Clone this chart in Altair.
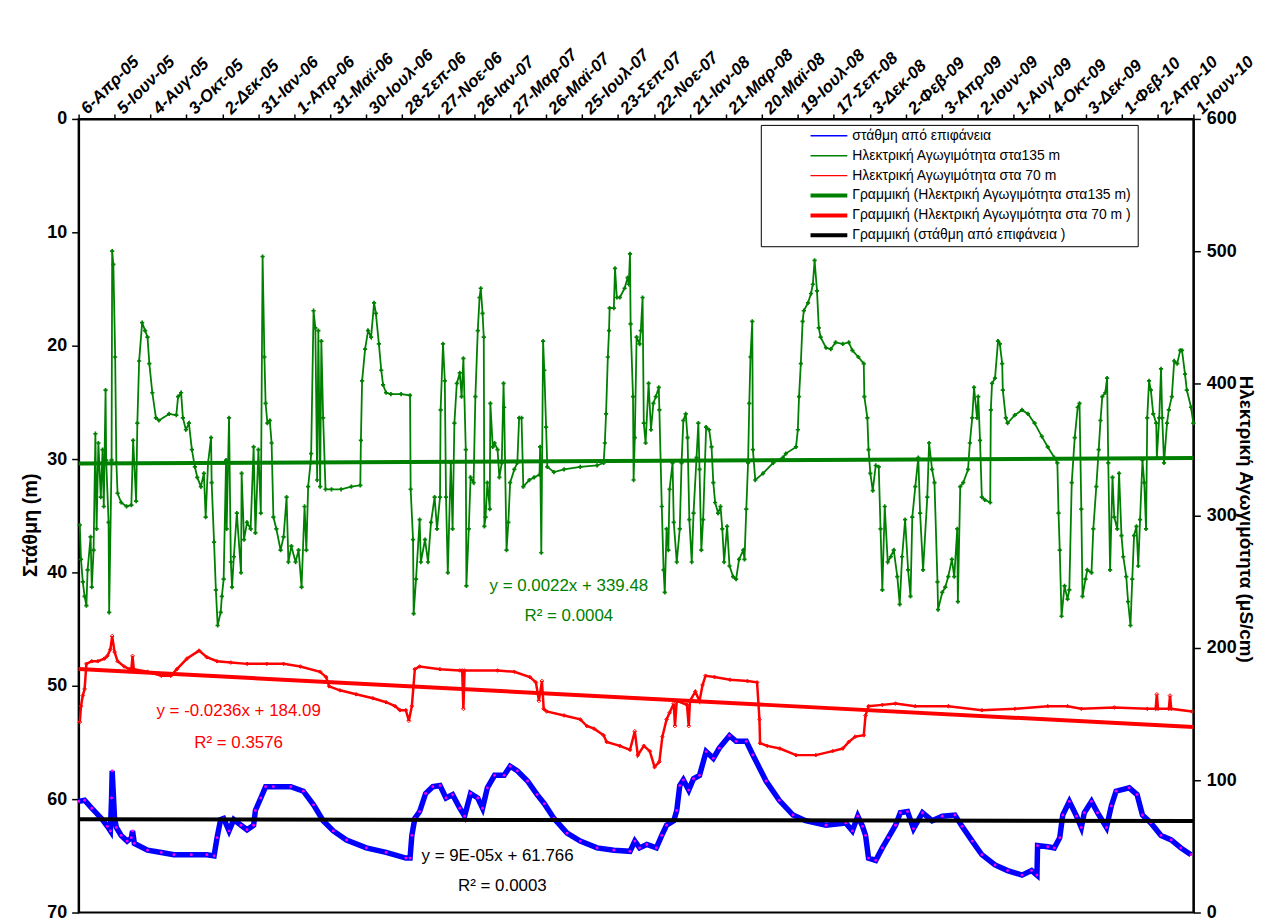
import json
import altair as alt
import pandas as pd

# ---------------- data ----------------
X_LABELS = ["6-Απρ-05", "5-Ιουν-05", "4-Αυγ-05", "3-Οκτ-05", "2-Δεκ-05", "31-Ιαν-06",
            "1-Απρ-06", "31-Μαϊ-06", "30-Ιουλ-06", "28-Σεπ-06", "27-Νοε-06", "26-Ιαν-07",
            "27-Μαρ-07", "26-Μαϊ-07", "25-Ιουλ-07", "23-Σεπ-07", "22-Νοε-07", "21-Ιαν-08",
            "21-Μαρ-08", "20-Μαϊ-08", "19-Ιουλ-08", "17-Σεπ-08", "3-Δεκ-08", "2-Φεβ-09",
            "3-Απρ-09", "2-Ιουν-09", "1-Αυγ-09", "4-Οκτ-09", "3-Δεκ-09", "1-Φεβ-10",
            "2-Απρ-10", "1-Ιουν-10"]
TICK_STEP = 60
X_MAX = TICK_STEP * (len(X_LABELS) - 1)

BLUE_IDX = [0, 10, 22, 38, 48, 53, 55, 56, 60, 63, 71, 81, 88, 90, 93, 115, 138, 159, 188, 214,
            226, 231, 237, 242, 251, 259, 271, 281, 292, 295, 304, 312, 325, 354, 375, 392, 408,
            425, 447, 480, 513, 546, 553, 556, 561, 569, 579, 591, 603, 613, 624, 636, 644, 654,
            666, 674, 682, 694, 710, 720, 732, 749, 765, 777, 793, 815, 837, 865, 893, 920, 928,
            936, 948, 964, 973, 981, 993, 998, 1003, 1009, 1018, 1026, 1036, 1047, 1059, 1069,
            1086, 1097, 1114, 1125, 1147, 1169, 1192, 1213, 1247, 1280, 1291, 1300, 1308, 1313,
            1318, 1330, 1341, 1351, 1363, 1371, 1383, 1393, 1408, 1424, 1441, 1462, 1474, 1491,
            1507, 1529, 1550, 1574, 1590, 1599, 1600, 1617, 1628, 1637, 1642, 1653, 1665, 1673,
            1678, 1690, 1700, 1715, 1723, 1731, 1753, 1766, 1775, 1789, 1806, 1823, 1839, 1856]
BLUE_M = [60.2, 60.1, 60.8, 61.7, 62.4, 62.8, 59.9, 57.5, 61.7, 62.5, 63.2, 63.7, 63.4, 62.8, 63.9,
          64.5, 64.7, 64.9, 64.9, 64.9, 65.0, 63.4, 61.8, 61.7, 62.8, 61.8, 62.3, 62.7, 62.3, 61.0,
          59.9, 58.9, 58.9, 58.9, 59.3, 60.5, 61.9, 62.8, 63.6, 64.3, 64.7, 65.2, 65.2, 63.2, 61.7,
          61.1, 59.5, 58.9, 58.8, 59.9, 59.6, 60.8, 61.5, 59.5, 59.9, 60.8, 59.0, 57.9, 57.9, 57.1,
          57.5, 58.4, 59.6, 60.4, 61.7, 63.0, 63.7, 64.3, 64.5, 64.6, 63.7, 64.3, 64.0, 64.3, 63.2,
          62.3, 61.9, 61.0, 58.8, 58.3, 59.2, 58.2, 57.9, 55.8, 56.4, 55.5, 54.4, 54.9, 54.9, 56.1,
          58.4, 60.1, 61.4, 61.9, 62.3, 62.1, 62.8, 61.5, 62.4, 63.2, 65.2, 65.4, 64.3, 63.4, 62.3,
          61.2, 61.1, 62.6, 61.2, 61.9, 61.5, 61.4, 62.4, 63.7, 64.9, 65.8, 66.3, 66.7, 66.3, 66.7,
          64.1, 64.2, 64.3, 63.4, 61.4, 60.2, 61.5, 62.5, 61.2, 60.2, 61.2, 62.5, 60.6, 59.3, 59.0,
          59.6, 61.4, 62.1, 63.2, 63.6, 64.3, 64.9]

GREEN_IDX = [2, 4, 7, 10, 13, 15, 20, 22, 25, 28, 30, 33, 37, 40, 42, 45, 46, 50, 51, 55, 56, 58,
             61, 63, 65, 71, 80, 88, 91, 96, 98, 101, 106, 111, 115, 118, 123, 129, 134, 151, 163,
             166, 171, 174, 179, 184, 189, 194, 198, 204, 209, 212, 216, 221, 222, 226, 229, 232,
             237, 239, 242, 246, 247, 251, 254, 256, 259, 264, 271, 272, 276, 281, 287, 292, 295,
             300, 304, 307, 310, 312, 315, 319, 322, 325, 330, 337, 342, 347, 350, 355, 362, 367,
             372, 377, 380, 383, 387, 388, 392, 395, 398, 400, 403, 405, 408, 412, 422, 438, 455,
             470, 471, 473, 478, 483, 488, 493, 496, 501, 505, 508, 513, 521, 538, 553,
             554, 558, 559, 563, 569, 571, 578, 583, 588, 594, 598, 603, 604, 608, 611, 613, 616,
             621, 624, 627, 631, 636, 639, 642, 646, 647, 651, 654, 659, 662, 666, 669, 671, 674,
             676, 677, 679, 682, 686, 687, 691, 694, 699, 702, 706, 709, 710, 714, 717, 720, 727,
             732, 735, 739, 742, 752, 760, 769, 770, 772, 775, 777, 780, 782, 793, 810, 837, 865,
             876, 878, 880, 883, 885, 886, 893, 895, 898, 903, 911, 916, 918, 920, 921, 925, 926,
             928, 931, 936, 938, 941, 943, 946, 951, 955, 959, 963, 968, 969, 973, 976, 978, 981,
             984, 986, 991, 993, 998, 1003, 1006, 1009, 1013, 1016, 1019, 1023, 1026, 1031, 1034,
             1036, 1039, 1042, 1047, 1052, 1056, 1059, 1062, 1067, 1071, 1074, 1077, 1082, 1086,
             1092, 1097, 1102, 1109, 1111, 1114, 1117, 1119, 1121, 1124, 1125, 1129, 1142, 1159,
             1175, 1180, 1197, 1200, 1202, 1205, 1208, 1210, 1217, 1222, 1225, 1228, 1232, 1235,
             1238, 1247, 1255, 1263, 1275, 1285, 1291, 1301, 1310, 1311, 1316, 1318, 1321, 1325,
             1330, 1335, 1338, 1341, 1345, 1350, 1355, 1360, 1366, 1370, 1374, 1379, 1384, 1388,
             1391, 1396, 1401, 1404, 1409, 1416, 1419, 1424, 1428, 1433, 1434, 1441, 1446, 1451,
             1457, 1461, 1466, 1467, 1471, 1476, 1484, 1487, 1491, 1494, 1499, 1501, 1504, 1507,
             1512, 1521, 1522, 1524, 1529, 1534, 1537, 1541, 1542, 1547, 1550, 1562, 1574, 1584,
             1595, 1607, 1617, 1628, 1633, 1635, 1637, 1640, 1645, 1650, 1653, 1657, 1662, 1667,
             1670, 1673, 1675, 1680, 1683, 1690, 1693, 1698, 1702, 1705, 1708, 1713, 1716, 1718,
             1721, 1725, 1728, 1733, 1736, 1740, 1743, 1748, 1751, 1755, 1758, 1761, 1765, 1768,
             1771, 1775, 1778, 1781, 1783, 1786, 1789, 1793, 1798, 1799, 1803, 1806, 1808, 1811,
             1816, 1819, 1824, 1828, 1833, 1838, 1841, 1846, 1849, 1856, 1860]
GREEN_VAL = [293, 267, 250, 239, 232, 259, 284, 246, 274, 362, 290, 355, 314, 350, 307, 395, 342,
             295, 227, 342, 500, 490, 420, 340, 317, 310, 307, 308, 357, 311, 370, 417, 446, 440,
             435, 415, 393, 374, 372, 377, 376, 390, 393, 374, 365, 370, 350, 337, 329, 322, 332,
             299, 340, 359, 325, 280, 244, 217, 227, 239, 252, 342, 290, 374, 265, 246, 269, 302,
             257, 332, 282, 295, 290, 352, 287, 350, 302, 496, 420, 385, 370, 372, 355, 299, 290,
             274, 284, 314, 265, 277, 265, 274, 246, 307, 274, 322, 340, 347, 455, 442, 327, 440,
             322, 432, 374, 320, 320, 320, 322, 323, 357, 402, 426, 440, 435, 461, 453, 430, 410,
             399, 393, 392, 392, 391,
             320, 282, 226, 252, 297, 265, 282, 265, 295, 314, 290, 314, 380, 430, 402, 314, 257,
             340, 290, 370, 400, 408, 390, 419, 350, 247, 290, 329, 325, 390, 440, 465, 472, 453,
             435, 292, 299, 325, 305, 385, 352, 355, 350, 329, 340, 400, 382, 274, 295, 325, 335,
             340, 374, 374, 322, 327, 329, 331, 352, 272, 432, 410, 367, 337, 333, 335, 337, 338,
             340, 355, 377, 420, 440, 457, 457, 487, 465, 465, 472, 480, 475, 498, 445, 390, 327,
             359, 435, 430, 440, 465, 370, 355, 400, 365, 385, 390, 397, 380, 307, 259, 242, 290,
             274, 320, 340, 295, 265, 290, 340, 372, 377, 359, 297, 265, 302, 344, 370,
             335, 274, 297, 367, 365, 352, 325, 310, 302, 307, 290, 265, 292, 262,
             254, 252, 267, 274, 267, 305, 340, 385, 420, 447, 350, 327, 332, 340,
             344, 347, 352, 365, 390, 415, 447, 455, 461, 468, 475, 493, 470, 442,
             435, 427, 426, 431, 430, 431, 425, 420, 415, 390, 374, 350, 332, 319,
             338, 337, 290, 244, 307, 265, 269, 274, 254, 233, 269, 297, 259, 239,
             299, 322, 344, 302, 259, 314, 355, 335, 325, 250, 229, 242, 246, 254,
             267, 254, 290, 235, 322, 325, 335, 355, 374, 397, 374, 390, 357, 314,
             312, 310, 380, 400, 404, 432, 430, 415, 395, 374, 370, 376, 380, 377,
             370, 360, 352, 344, 340, 302, 274, 224, 247, 237, 244, 325, 359, 382,
             385, 305, 239, 252, 259, 257, 290, 322, 350, 372, 390, 393, 404, 340,
             259, 329, 299, 290, 332, 285, 269, 254, 235, 217, 252, 285, 292, 262,
             297, 342, 325, 290, 374, 402, 395, 377, 370, 344, 374, 411, 374, 340,
             370, 380, 390, 417, 415, 425, 425, 407, 395, 382, 370]

RED_IDX = [2, 4, 7, 10, 13, 22, 32, 43, 48, 53, 56, 60, 65, 76, 85, 88, 90, 92, 115, 138, 154, 164,
           181, 201, 214, 231, 254, 281, 314, 342, 370, 403, 413, 418, 436, 463, 491, 513, 528, 536,
           546, 551, 556, 561, 569, 603, 636, 640, 642, 644, 699, 727, 753, 763, 768, 773, 776, 781,
           810, 837, 848, 860, 876, 881, 903, 920, 928, 933, 943, 953, 961, 969, 974, 981, 986, 993,
           995, 998, 1015, 1018, 1020, 1029, 1036, 1041, 1046, 1061, 1087, 1116, 1132, 1136, 1137,
           1149, 1170, 1197, 1230, 1258, 1275, 1285, 1296, 1310, 1313, 1318, 1341, 1363, 1396,
           1451, 1507, 1562, 1617, 1650, 1673, 1728, 1783, 1797, 1799, 1801, 1819, 1821, 1823, 1858]
RED_VAL = [144, 156, 164, 169, 188, 190, 190, 192, 194, 199, 209, 197, 190, 186, 184, 184, 194, 184,
           182, 179, 179, 184, 192, 198, 193, 190, 189, 188, 188, 188, 186, 182, 178, 171, 168, 165,
           162, 159, 156, 153, 153, 145, 156, 184, 186, 184, 183, 183, 154, 183, 183, 182, 178, 174,
           160, 175, 154, 152, 149, 146, 141, 139, 134, 129, 126, 123, 137, 119, 126, 122, 110, 114,
           133, 146, 151, 158, 141, 160, 157, 141, 160, 167, 160, 172, 179, 178, 176, 175, 174, 146,
           128, 126, 124, 119, 119, 122, 124, 129, 133, 134, 149, 156, 157, 158, 156, 156, 153, 154,
           156, 156, 154, 155, 154, 154, 165, 154, 154, 164, 154, 152]

S_BLUE = "στάθμη από επιφάνεια"
S_GREEN = "Ηλεκτρική Αγωγιμότητα στα135 m"
S_RED = "Ηλεκτρική Αγωγιμότητα στα 70 m"
T_GREEN = "Γραμμική (Ηλεκτρική Αγωγιμότητα στα135 m)"
T_RED = "Γραμμική (Ηλεκτρική Αγωγιμότητα στα 70 m )"
T_BLACK = "Γραμμική (στάθμη από επιφάνεια )"
SERIES = [S_BLUE, S_GREEN, S_RED, T_GREEN, T_RED, T_BLACK]
SERIES_COLORS = ["#0000FF", "#008000", "#FF0000", "#008000", "#FF0000", "#000000"]
LEGEND_WIDTHS = [1.5, 1.5, 1.5, 4, 4, 4]

# trend lines (Excel linear fits, as printed on the chart)
TREND_NAMES = [T_GREEN, T_RED, T_BLACK]
TREND_SLOPE = [0.0022, -0.0236, 0.00009]
TREND_INTERCEPT = [339.48, 184.09, 61.766]

EQ_TEXT = ["y = 0.0022x + 339.48", "R² = 0.0004",
           "y = -0.0236x + 184.09", "R² = 0.3576"]
EQ_IDX = [818, 818, 267, 267]
EQ_VAL = [247, 224, 152, 128]
EQ_COLOR = ["#008000", "#008000", "#FF0000", "#FF0000"]
EQB_TEXT = ["y = 9E-05x + 61.766", "R² = 0.0003"]
EQB_IDX = [699, 707]
EQB_M = [65.0, 67.7]

# ---------------- frames ----------------
blue_df = pd.DataFrame({"idx": BLUE_IDX, "m": BLUE_M, "series": S_BLUE})
green_df = pd.DataFrame({"idx": GREEN_IDX, "v": GREEN_VAL, "series": S_GREEN})
red_df = pd.DataFrame({"idx": RED_IDX, "v": RED_VAL, "series": S_RED})

trend_rows = []
for name, a, b in zip(TREND_NAMES, TREND_SLOPE, TREND_INTERCEPT):
    for xi in (0, X_MAX):
        trend_rows.append({"idx": xi, "val": a * xi + b, "series": name})
trend_df = pd.DataFrame(trend_rows)
trend_right = trend_df[trend_df.series != T_BLACK].rename(columns={"val": "v"})
trend_left = trend_df[trend_df.series == T_BLACK].rename(columns={"val": "m"})

eq_df = pd.DataFrame({"idx": EQ_IDX, "v": EQ_VAL, "txt": EQ_TEXT, "col": EQ_COLOR})
eqb_df = pd.DataFrame({"idx": EQB_IDX, "m": EQB_M, "txt": EQB_TEXT})

# ---------------- encodings ----------------
FONT = "Liberation Sans, Arial, sans-serif"

label_arr = json.dumps(X_LABELS, ensure_ascii=False)
x_axis = alt.Axis(orient="top", values=list(range(0, X_MAX + 1, TICK_STEP)),
                  labelExpr=f"{label_arr}[round(datum.value / {TICK_STEP})]",
                  labelAngle=-45, labelAlign="left", labelBaseline="middle",
                  labelOverlap=False, labelFlush=False, labelBound=False,
                  labelFont=FONT, labelFontSize=17, labelFontWeight="bold",
                  labelFontStyle="italic", labelPadding=3, labelOffset=5,
                  tickSize=5, title=None, grid=False)
X = alt.X("idx:Q", scale=alt.Scale(domain=[0, X_MAX], nice=False, zero=False), axis=x_axis)

left_axis = alt.Axis(orient="left", values=list(range(0, 71, 10)), title="Στάθμη (m)",
                     titleFont=FONT, titleFontSize=20, titleFontWeight="bold",
                     titleAngle=-90, titleX=-38, titleY=408, titleAlign="center",
                     titleBaseline="bottom",
                     labelFont=FONT, labelFontSize=18, labelFontWeight="bold",
                     labelPadding=5, labelFlush=False, labelOverlap=False,
                     tickSize=7, grid=False)
YL = alt.Y("m:Q", scale=alt.Scale(domain=[0, 70], reverse=True, nice=False, zero=False),
           axis=left_axis)

right_axis = alt.Axis(orient="right", values=list(range(0, 601, 100)),
                      title="Ηλεκτρική Αγωγιμότητα (μS/cm)",
                      titleFont=FONT, titleFontSize=19, titleFontWeight="bold",
                      titleAngle=90, titleX=42, titleY=402, titleAlign="center",
                      titleBaseline="bottom",
                      labelFont=FONT, labelFontSize=18, labelFontWeight="bold",
                      labelPadding=6, labelFlush=False, labelOverlap=False,
                      tickSize=7, grid=False)
YR = alt.Y("v:Q", scale=alt.Scale(domain=[0, 600], nice=False, zero=False), axis=right_axis)

# legend: an invisible (blank) title on the right only widens the frame like the original box
LEG = alt.Legend(title="\u2003" * 8, titleOrient="right", titleFontSize=14,
                 titlePadding=2, titleLimit=400,
                 orient="none", legendX=686, legendY=6, direction="vertical",
                 symbolType="stroke", symbolSize=1369, symbolOffset=44, clipHeight=14,
                 rowPadding=6, padding=4, labelFont=FONT, labelFontSize=14,
                 labelColor="black", labelOffset=3, labelLimit=500,
                 strokeColor="black", fillColor="white", cornerRadius=0)
COLOR = alt.Color("series:N", scale=alt.Scale(domain=SERIES, range=SERIES_COLORS), legend=LEG)
SW = alt.StrokeWidth("series:N", scale=alt.Scale(type="ordinal", domain=SERIES, range=LEGEND_WIDTHS),
                     legend=LEG)

# ---------------- left-axis group ----------------
blue_line = alt.Chart(blue_df).mark_line(strokeWidth=5.5).encode(x=X, y=YL, color=COLOR)
blue_pts = alt.Chart(blue_df).mark_point(shape="circle", filled=True, size=8, color="#FF00FF",
                                         opacity=1).encode(x=X, y=YL)
black_trend = alt.Chart(trend_left).mark_line().encode(x=X, y=YL, color=COLOR, strokeWidth=SW)
black_text = alt.Chart(eqb_df).mark_text(font=FONT, fontSize=17, color="black",
                                         baseline="middle", align="center").encode(
    x=X, y=YL, text="txt:N")
left = alt.layer(blue_line, blue_pts, black_trend, black_text)

# ---------------- right-axis group ----------------
green_line = alt.Chart(green_df).mark_line(strokeWidth=1.8).encode(x=X, y=YR, color=COLOR)
green_pts = alt.Chart(green_df).mark_point(shape="cross", filled=True, size=18, color="#008000",
                                           opacity=1).encode(x=X, y=YR)
red_line = alt.Chart(red_df).mark_line(strokeWidth=2.5).encode(x=X, y=YR, color=COLOR)
red_pts = alt.Chart(red_df).mark_point(shape="diamond", filled=False, size=14, color="#FF0000",
                                       strokeWidth=1, opacity=1).encode(x=X, y=YR)
trend_lines = alt.Chart(trend_right).mark_line().encode(x=X, y=YR, color=COLOR, strokeWidth=SW)
eq_text = alt.Chart(eq_df).mark_text(font=FONT, fontSize=17, baseline="middle",
                                     align="center").encode(
    x=X, y=YR, text="txt:N", color=alt.Color("col:N", scale=None, legend=None))
right = alt.layer(green_line, green_pts, red_line, red_pts, trend_lines, eq_text)

chart = alt.layer(left, right).resolve_scale(y="independent").properties(
    width=1121, height=798,
    autosize=alt.AutoSizeParams(type="none"),
    padding={"left": 71, "top": 109, "right": 72, "bottom": 12},
    background="white",
).configure_view(stroke="black", strokeWidth=2).configure_axis(
    domainColor="black", domainWidth=2, tickColor="black", tickWidth=1.5,
    labelColor="black", titleColor="black", grid=False)

chart.save("out.html", embed_options={"renderer": "svg", "actions": False})
